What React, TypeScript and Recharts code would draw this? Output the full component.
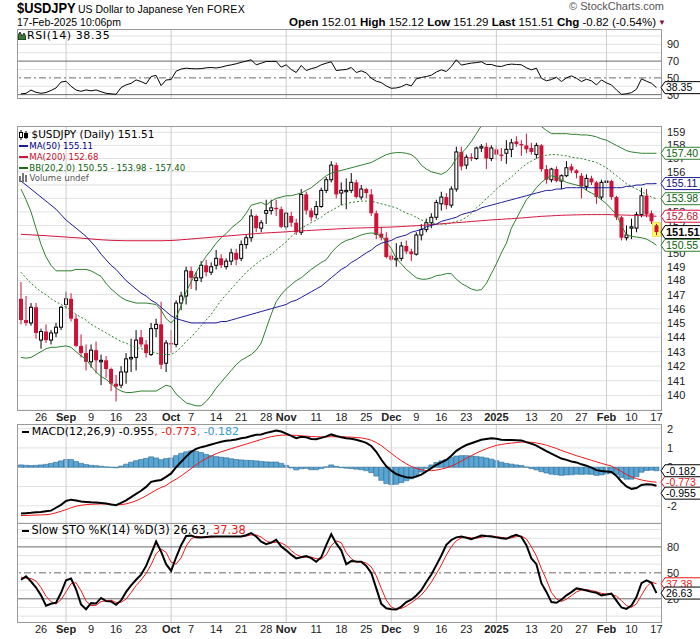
import React from "react";
import {
  ComposedChart,
  Bar,
  Line,
  XAxis,
  YAxis,
  CartesianGrid,
  ReferenceLine,
  ReferenceDot,
} from "recharts";

// trading days shown on the chart
const dates = [
  "2024-08-20", "2024-08-21", "2024-08-22", "2024-08-23", "2024-08-26", "2024-08-27", "2024-08-28", "2024-08-29", "2024-08-30",
  "2024-09-02", "2024-09-03", "2024-09-04", "2024-09-05", "2024-09-06", "2024-09-09", "2024-09-10", "2024-09-11", "2024-09-12",
  "2024-09-13", "2024-09-16", "2024-09-17", "2024-09-18", "2024-09-19", "2024-09-20", "2024-09-23", "2024-09-24", "2024-09-25",
  "2024-09-26", "2024-09-27", "2024-09-30",
  "2024-10-01", "2024-10-02", "2024-10-03", "2024-10-04", "2024-10-07", "2024-10-08", "2024-10-09", "2024-10-10", "2024-10-11",
  "2024-10-14", "2024-10-15", "2024-10-16", "2024-10-17", "2024-10-18", "2024-10-21", "2024-10-22", "2024-10-23", "2024-10-24",
  "2024-10-25", "2024-10-28", "2024-10-29", "2024-10-30", "2024-10-31",
  "2024-11-01", "2024-11-04", "2024-11-05", "2024-11-06", "2024-11-07", "2024-11-08", "2024-11-11", "2024-11-12", "2024-11-13",
  "2024-11-14", "2024-11-15", "2024-11-18", "2024-11-19", "2024-11-20", "2024-11-21", "2024-11-22", "2024-11-25", "2024-11-26",
  "2024-11-27", "2024-11-28", "2024-11-29",
  "2024-12-02", "2024-12-03", "2024-12-04", "2024-12-05", "2024-12-06", "2024-12-09", "2024-12-10", "2024-12-11", "2024-12-12",
  "2024-12-13", "2024-12-16", "2024-12-17", "2024-12-18", "2024-12-19", "2024-12-20", "2024-12-23", "2024-12-24", "2024-12-26",
  "2024-12-27", "2024-12-30", "2024-12-31",
  "2025-01-02", "2025-01-03", "2025-01-06", "2025-01-07", "2025-01-08", "2025-01-09", "2025-01-10", "2025-01-13", "2025-01-14",
  "2025-01-15", "2025-01-16", "2025-01-17", "2025-01-20", "2025-01-21", "2025-01-22", "2025-01-23", "2025-01-24", "2025-01-27",
  "2025-01-28", "2025-01-29", "2025-01-30", "2025-01-31",
  "2025-02-03", "2025-02-04", "2025-02-05", "2025-02-06", "2025-02-07", "2025-02-10", "2025-02-11", "2025-02-12", "2025-02-13",
  "2025-02-14", "2025-02-17",
];

const open = [
  146.7, 145.2, 145.0, 146.1, 143.8, 144.4, 143.8, 144.3, 144.7, 146.3,
  146.7, 145.3, 143.4, 142.9, 142.3, 143.1, 142.3, 142.4, 141.8, 140.8,
  140.7, 141.6, 142.5, 142.6, 144.0, 143.5, 142.8, 144.6, 144.9, 142.2,
  143.6, 143.5, 146.4, 146.9, 148.7, 148.0, 148.2, 149.1, 148.6, 149.1,
  149.6, 149.0, 149.4, 150.0, 149.6, 150.6, 151.1, 152.7, 151.8, 152.9,
  153.1, 153.3, 153.2, 151.9, 152.7, 152.2, 151.5, 154.3, 153.1, 152.8,
  153.4, 154.6, 155.4, 156.5, 154.4, 154.5, 154.6, 155.2, 154.1, 154.7,
  154.3, 152.9, 151.4, 151.1, 149.8, 149.5, 149.6, 150.5, 150.1, 149.9,
  151.3, 151.7, 152.2, 152.6, 153.6, 154.1, 153.5, 154.7, 157.5, 156.5,
  157.1, 157.0, 157.8, 157.9, 157.0, 157.7, 157.3, 157.4, 157.7, 158.3,
  158.1, 158.0, 157.8, 157.3, 158.0, 156.2, 155.4, 156.2, 155.3, 155.7,
  156.4, 156.1, 155.7, 154.9, 155.5, 155.2, 154.1, 155.2, 155.3, 154.1,
  152.6, 151.1, 151.8, 151.8, 152.8, 154.2, 152.9, 152.01,
];
const high = [
  147.9, 146.9, 146.4, 146.4, 144.6, 144.9, 144.5, 145.0, 146.2, 147.2,
  147.1, 145.6, 144.2, 143.5, 143.5, 143.7, 142.8, 142.7, 141.9, 141.4,
  142.0, 142.9, 143.9, 144.5, 144.5, 143.8, 145.0, 145.3, 146.5, 143.8,
  144.5, 146.6, 147.2, 149.0, 149.0, 148.6, 149.4, 149.5, 149.3, 150.2,
  149.9, 149.6, 150.3, 150.3, 150.9, 151.3, 153.2, 152.8, 152.4, 153.9,
  153.9, 153.9, 153.4, 153.0, 153.0, 152.5, 154.7, 154.5, 153.3, 153.8,
  154.8, 155.6, 156.8, 156.7, 155.2, 155.5, 155.9, 155.4, 155.0, 154.8,
  154.7, 153.1, 151.9, 151.5, 150.1, 150.7, 150.8, 150.9, 150.3, 151.5,
  152.1, 152.5, 152.9, 153.9, 154.5, 154.4, 154.9, 157.9, 157.9, 157.3,
  157.4, 157.9, 158.1, 158.2, 158.0, 158.0, 157.8, 158.4, 158.5, 158.7,
  158.4, 158.9, 158.2, 158.2, 158.1, 156.5, 156.3, 156.4, 155.8, 156.8,
  156.6, 156.2, 155.9, 155.8, 155.7, 155.3, 155.4, 156.0, 155.4, 154.2,
  152.7, 152.0, 152.5, 153.0, 154.8, 154.7, 153.1, 152.12,
];
const low = [
  144.9, 144.8, 144.8, 143.9, 143.2, 143.6, 143.5, 144.0, 144.5, 146.0,
  145.1, 143.3, 142.6, 141.7, 141.9, 141.5, 140.7, 141.2, 140.3, 139.6,
  140.5, 140.8, 141.6, 141.7, 143.3, 142.6, 142.7, 144.0, 141.8, 141.6,
  142.9, 143.3, 145.9, 146.3, 147.4, 147.3, 147.9, 148.3, 148.4, 148.8,
  148.9, 148.8, 149.1, 149.1, 149.4, 150.3, 150.8, 151.5, 151.5, 152.1,
  152.8, 152.7, 151.8, 151.7, 151.9, 151.3, 151.3, 152.8, 152.3, 152.5,
  153.3, 154.4, 155.2, 154.0, 153.5, 153.2, 154.4, 154.0, 153.9, 154.0,
  152.7, 151.0, 150.9, 149.6, 149.4, 149.0, 149.4, 149.9, 149.4, 149.8,
  150.9, 151.5, 151.8, 152.4, 153.1, 153.2, 153.3, 154.5, 156.1, 156.2,
  156.8, 156.9, 157.5, 156.2, 156.8, 156.9, 156.8, 156.6, 157.1, 157.9,
  157.2, 157.4, 157.3, 157.0, 156.0, 155.1, 155.2, 155.2, 154.7, 155.6,
  155.9, 155.5, 154.0, 154.6, 155.0, 153.6, 153.9, 154.1, 153.9, 152.4,
  150.9, 150.9, 151.0, 151.5, 152.6, 152.6, 152.1, 151.29,
];
const close = [
  145.2, 145.0, 146.1, 144.3, 144.4, 143.8, 144.3, 144.7, 146.1, 146.7,
  145.3, 143.4, 142.9, 142.3, 143.1, 142.4, 142.4, 141.8, 140.8, 140.6,
  141.6, 142.5, 142.6, 143.8, 143.5, 142.9, 144.6, 144.9, 142.1, 143.6,
  143.5, 146.4, 146.9, 148.7, 148.2, 148.2, 149.1, 148.6, 149.0, 149.6,
  149.1, 149.4, 150.0, 149.5, 150.6, 151.1, 152.7, 151.8, 152.2, 153.1,
  153.3, 153.2, 151.9, 152.9, 152.2, 151.5, 154.3, 153.1, 152.6, 153.4,
  154.6, 155.4, 156.5, 154.3, 154.6, 154.6, 155.2, 154.1, 154.7, 154.4,
  152.9, 151.3, 151.1, 149.7, 149.5, 149.6, 150.5, 150.1, 149.9, 151.3,
  151.7, 152.2, 152.6, 153.7, 154.1, 153.5, 154.7, 157.5, 156.4, 157.1,
  157.0, 157.8, 157.9, 157.0, 157.8, 157.3, 157.2, 157.7, 158.2, 158.1,
  158.0, 157.7, 157.5, 158.0, 156.2, 155.4, 156.2, 155.3, 155.7, 156.3,
  156.1, 155.9, 154.9, 155.5, 155.2, 154.1, 155.2, 155.3, 154.1, 152.6,
  151.1, 151.3, 151.9, 152.8, 154.2, 152.8, 152.3, 151.51,
];

const ma50 = [
  155.3, 155.0, 154.7, 154.4, 154.1, 153.8, 153.5, 153.2, 152.8, 152.4,
  152.1, 151.8, 151.5, 151.2, 150.8, 150.4, 149.9, 149.5, 149.1, 148.8,
  148.4, 148.0, 147.7, 147.4, 147.1, 146.9, 146.6, 146.4, 146.1, 145.8,
  145.5, 145.3, 145.2, 145.1, 145.0, 145.0, 145.0, 145.0, 145.0, 145.0,
  145.1, 145.1, 145.2, 145.3, 145.4, 145.5, 145.6, 145.7, 145.8, 145.9,
  146.0, 146.1, 146.2, 146.3, 146.5, 146.6, 146.8, 147.0, 147.2, 147.4,
  147.6, 147.9, 148.2, 148.5, 148.8, 149.0, 149.3, 149.5, 149.75, 150.0,
  150.2, 150.5, 150.7, 150.8, 150.9, 151.1, 151.2, 151.3, 151.5, 151.6,
  151.7, 151.9, 152.0, 152.1, 152.3, 152.4, 152.5, 152.6, 152.8, 152.9,
  153.0, 153.1, 153.3, 153.4, 153.5, 153.6, 153.7, 153.8, 153.9, 154.0,
  154.1, 154.2, 154.3, 154.4, 154.5, 154.6, 154.6, 154.7, 154.7, 154.8,
  154.8, 154.8, 154.8, 154.8, 154.8, 154.8, 154.8, 154.8, 154.8, 154.8,
  154.8, 154.9, 154.9, 155.0, 155.0, 155.1, 155.1, 155.11,
];
const ma200 = [
  151.35, 151.33, 151.31, 151.29, 151.27, 151.25, 151.22, 151.2, 151.17, 151.15,
  151.12, 151.1, 151.07, 151.04, 151.01, 150.98, 150.95, 150.93, 150.91, 150.9,
  150.89, 150.88, 150.88, 150.88, 150.88, 150.88, 150.88, 150.88, 150.88, 150.89,
  150.9, 150.92, 150.95, 150.98, 151.01, 151.04, 151.07, 151.1, 151.13, 151.16,
  151.19, 151.22, 151.25, 151.28, 151.31, 151.34, 151.37, 151.4, 151.43, 151.45,
  151.47, 151.49, 151.51, 151.53, 151.56, 151.58, 151.6, 151.62, 151.64, 151.66,
  151.68, 151.7, 151.72, 151.74, 151.76, 151.78, 151.8, 151.81, 151.82, 151.83,
  151.84, 151.85, 151.86, 151.87, 151.88, 151.9, 151.92, 151.94, 151.96, 151.98,
  152.0, 152.03, 152.06, 152.09, 152.12, 152.15, 152.18, 152.2, 152.23, 152.26,
  152.29, 152.32, 152.35, 152.38, 152.41, 152.43, 152.45, 152.48, 152.5, 152.53,
  152.55, 152.58, 152.61, 152.64, 152.67, 152.69, 152.71, 152.73, 152.75, 152.76,
  152.77, 152.78, 152.79, 152.8, 152.8, 152.8, 152.8, 152.8, 152.79, 152.78,
  152.77, 152.76, 152.75, 152.74, 152.72, 152.71, 152.69, 152.68,
];
const bbUpper = [
  154.7, 153.9, 153.0, 151.8, 150.6, 149.7, 149.1, 148.7, 148.7, 148.7,
  148.7, 148.8, 148.8, 148.8, 148.7, 148.5, 148.3, 147.8, 147.4, 147.1,
  146.8, 146.6, 146.5, 146.4, 146.4, 146.4, 146.35, 146.3, 145.9, 145.3,
  145.0, 145.4, 146.2, 147.2, 147.9, 148.6, 149.2, 149.75, 150.2, 150.7,
  151.1, 151.4, 151.8, 152.1, 152.4, 152.9, 153.5, 153.6, 153.7, 153.5,
  153.8, 154.0, 154.1, 154.2, 154.2, 154.3, 154.4, 154.6, 154.8, 155.1,
  155.4, 155.7, 155.9, 156.0, 156.1, 156.2, 156.3, 156.4, 156.5, 156.6,
  156.7, 156.9, 157.1, 157.3, 157.4, 157.45, 157.45, 157.4, 157.3, 157.0,
  156.5, 156.2, 156.0, 155.9, 155.8, 156.0, 156.4, 157.0, 157.4, 157.8,
  158.3, 158.9, 159.5, 160.0, 160.3, 160.4, 160.5, 160.5, 160.4, 160.3,
  160.1, 159.9, 159.8, 159.7, 159.45, 159.15, 158.9, 158.9, 158.9, 158.9,
  158.85, 158.85, 158.8, 158.8, 158.75, 158.65, 158.5, 158.4, 158.2, 158.0,
  157.8, 157.6, 157.5, 157.45, 157.4, 157.4, 157.4, 157.4,
];
const bbMid = [
  148.6, 148.2, 147.8, 147.5, 147.2, 147.0, 146.7, 146.5, 146.3, 146.1,
  145.9, 145.6, 145.4, 145.2, 144.9, 144.7, 144.5, 144.3, 144.1, 143.9,
  143.7, 143.6, 143.4, 143.3, 143.2, 143.15, 143.0, 142.9, 142.8, 142.8,
  142.8, 143.0, 143.3, 143.7, 144.0, 144.4, 144.8, 145.2, 145.6, 146.1,
  146.6, 147.0, 147.4, 147.8, 148.2, 148.6, 148.9, 149.2, 149.5, 149.7,
  149.9, 150.2, 150.5, 150.8, 151.2, 151.5, 151.8, 152.0, 152.2, 152.4,
  152.6, 152.9, 153.1, 153.3, 153.5, 153.6, 153.7, 153.75, 153.8, 153.8,
  153.8, 153.7, 153.6, 153.5, 153.4, 153.3, 153.1, 152.9, 152.8, 152.6,
  152.4, 152.3, 152.2, 152.1, 152.1, 152.1, 152.2, 152.3, 152.4, 152.6,
  152.9, 153.3, 153.6, 154.0, 154.3, 154.7, 155.0, 155.3, 155.6, 155.95,
  156.3, 156.6, 156.8, 157.0, 157.2, 157.25, 157.3, 157.3, 157.25, 157.2,
  157.1, 157.05, 157.0, 156.9, 156.8, 156.7, 156.5, 156.3, 156.0, 155.7,
  155.4, 155.1, 154.9, 154.7, 154.5, 154.3, 154.1, 153.98,
];
const bbLower = [
  142.6, 142.55, 142.6, 142.8, 143.0, 143.2, 143.3, 143.3, 143.35, 143.4,
  143.3, 143.0, 142.7, 142.5, 142.0, 141.6, 141.3, 141.1, 140.8, 140.5,
  140.3, 140.2, 140.2, 140.25, 140.3, 140.3, 140.3, 140.3, 140.5, 140.7,
  140.6, 140.1, 139.8, 139.5, 139.4, 139.3, 139.3, 139.6, 140.0, 140.5,
  140.9, 141.3, 141.7, 142.1, 142.4, 142.6, 142.8, 143.1, 143.6, 144.6,
  145.6, 146.5, 147.0, 147.4, 147.7, 148.0, 148.2, 148.5, 148.8, 149.05,
  149.3, 149.5, 150.0, 150.4, 150.7, 150.9, 151.0, 151.15, 151.3, 151.4,
  151.45, 151.4, 151.2, 150.8, 150.3, 149.6, 149.2, 148.8, 148.5, 148.2,
  148.1, 148.1, 148.2, 148.35, 148.4, 148.5, 148.5, 148.1, 147.8, 147.6,
  147.4, 147.3, 147.35, 147.8, 148.5, 149.2, 150.0, 150.7, 151.8, 152.5,
  153.2, 153.9, 154.3, 154.8, 155.2, 155.5, 155.7, 155.6, 155.4, 155.2,
  155.1, 155.0, 154.9, 154.6, 154.4, 154.2, 153.9, 153.6, 153.2, 152.8,
  152.0, 151.3, 151.2, 151.15, 151.1, 151.0, 150.8, 150.55,
];

const rsi = [
  31.0, 31.5, 35.5, 32.8, 31.6, 32.5, 35.0, 38.0, 45.0, 46.0,
  40.0, 35.5, 34.0, 35.6, 34.5, 35.6, 33.5, 31.6, 31.0, 30.4,
  38.5, 41.6, 43.5, 47.6, 45.6, 42.8, 51.6, 53.0, 40.8, 47.5,
  48.0, 58.0, 60.5, 61.6, 61.0, 60.8, 61.0, 62.0, 62.4, 61.8,
  62.8, 64.4, 65.5, 66.8, 68.5, 70.0, 71.6, 65.6, 67.5, 69.6,
  69.6, 69.6, 62.8, 65.6, 60.0, 56.4, 64.8, 58.8, 61.0, 62.5,
  65.6, 67.5, 69.2, 58.8, 59.5, 60.0, 62.4, 56.4, 58.4, 56.0,
  49.6, 46.0, 44.4, 40.4, 37.6, 38.0, 39.5, 42.4, 40.4, 48.8,
  50.5, 51.6, 53.2, 57.0, 59.6, 57.6, 63.6, 71.6, 65.2, 66.5,
  67.6, 68.2, 69.2, 66.0, 66.0, 64.0, 63.6, 65.6, 66.4, 66.0,
  65.6, 62.0, 59.6, 61.6, 49.6, 46.5, 48.0, 50.8, 45.6, 50.0,
  52.4, 49.6, 45.6, 48.4, 46.5, 41.6, 47.6, 44.0, 41.6, 35.6,
  30.4, 31.0, 32.4, 36.5, 48.8, 46.0, 43.6, 38.35,
];

const macd = [
  -2.4, -2.38, -2.36, -2.33, -2.32, -2.28, -2.25, -2.1, -1.95, -1.75,
  -1.68, -1.72, -1.78, -1.8, -1.82, -1.83, -1.85, -1.88, -1.93, -1.97,
  -1.85, -1.72, -1.55, -1.38, -1.22, -1.02, -0.76, -0.7, -0.66, -0.5,
  -0.32, 0.0, 0.28, 0.55, 0.8, 0.95, 1.04, 1.1, 1.18, 1.25,
  1.32, 1.37, 1.4, 1.44, 1.5, 1.54, 1.62, 1.68, 1.7, 1.78,
  1.84, 1.9, 1.85, 1.74, 1.62, 1.5, 1.58, 1.55, 1.46, 1.45,
  1.52, 1.6, 1.7, 1.62, 1.55, 1.5, 1.48, 1.42, 1.35, 1.26,
  1.1, 0.8, 0.4, 0.05, -0.18, -0.35, -0.45, -0.52, -0.55, -0.48,
  -0.38, -0.22, -0.05, 0.12, 0.25, 0.38, 0.6, 0.85, 1.02, 1.15,
  1.24, 1.33, 1.42, 1.46, 1.5, 1.47, 1.43, 1.41, 1.41, 1.4,
  1.39, 1.3, 1.22, 1.12, 0.98, 0.84, 0.7, 0.58, 0.45, 0.38,
  0.3, 0.25, 0.15, 0.08, -0.02, -0.15, -0.2, -0.22, -0.25, -0.45,
  -0.75, -1.0, -1.12, -1.08, -0.92, -0.88, -0.9, -0.955,
];
const signal = [
  -2.5, -2.5, -2.49, -2.48, -2.47, -2.46, -2.43, -2.36, -2.28, -2.2,
  -2.1, -2.02, -1.97, -1.94, -1.92, -1.91, -1.9, -1.9, -1.92, -1.94,
  -1.94, -1.9, -1.83, -1.74, -1.62, -1.48, -1.33, -1.18, -1.05, -0.95,
  -0.76, -0.62, -0.45, -0.26, -0.07, 0.12, 0.3, 0.45, 0.58, 0.7,
  0.8, 0.88, 0.96, 1.04, 1.12, 1.2, 1.28, 1.36, 1.44, 1.52,
  1.58, 1.63, 1.66, 1.67, 1.66, 1.65, 1.63, 1.61, 1.59, 1.58,
  1.57, 1.57, 1.58, 1.58, 1.58, 1.57, 1.56, 1.54, 1.52, 1.47,
  1.4, 1.28, 1.12, 0.92, 0.72, 0.52, 0.34, 0.18, 0.04, -0.06,
  -0.13, -0.17, -0.18, -0.15, -0.1, -0.03, 0.06, 0.18, 0.32, 0.46,
  0.6, 0.73, 0.85, 0.96, 1.05, 1.13, 1.18, 1.22, 1.25, 1.28,
  1.3, 1.3, 1.29, 1.26, 1.21, 1.14, 1.06, 0.97, 0.87, 0.78,
  0.69, 0.6, 0.52, 0.44, 0.36, 0.28, 0.2, 0.13, 0.06, -0.08,
  -0.22, -0.38, -0.5, -0.59, -0.66, -0.71, -0.75, -0.773,
];
const hist = [
  0.12, 0.1, 0.09, 0.1, 0.12, 0.15, 0.2, 0.26, 0.33, 0.4,
  0.4, 0.3, 0.2, 0.14, 0.1, 0.08, 0.05, 0.02, -0.01, -0.03,
  0.06, 0.16, 0.26, 0.34, 0.4, 0.46, 0.54, 0.48, 0.39, 0.45,
  0.48, 0.6, 0.72, 0.8, 0.85, 0.83, 0.76, 0.67, 0.6, 0.55,
  0.52, 0.49, 0.44, 0.4, 0.38, 0.36, 0.35, 0.33, 0.3, 0.28,
  0.27, 0.27, 0.2, 0.1, -0.04, -0.14, -0.08, -0.06, -0.13, -0.13,
  -0.07, 0.02, 0.12, 0.04, -0.02, -0.05, -0.07, -0.1, -0.13, -0.18,
  -0.28, -0.46, -0.68, -0.85, -0.9, -0.88, -0.8, -0.7, -0.6, -0.42,
  -0.25, -0.06, 0.12, 0.25, 0.33, 0.4, 0.5, 0.58, 0.6, 0.6,
  0.58, 0.56, 0.53, 0.48, 0.42, 0.34, 0.26, 0.2, 0.16, 0.12,
  0.09, 0.01, -0.07, -0.14, -0.23, -0.3, -0.36, -0.39, -0.42, -0.4,
  -0.39, -0.36, -0.37, -0.36, -0.37, -0.42, -0.4, -0.35, -0.3, -0.37,
  -0.53, -0.62, -0.62, -0.49, -0.26, -0.17, -0.15, -0.182,
];

const stoK = [
  42.0, 46.0, 40.0, 33.0, 24.0, 12.0, 14.2, 15.5, 27.0, 41.5,
  43.4, 31.0, 13.5, 8.0, 15.0, 14.5, 21.0, 17.3, 16.9, 13.1,
  18.1, 28.0, 35.5, 42.0, 48.0, 58.0, 72.0, 86.2, 74.5, 60.0,
  52.3, 68.0, 82.0, 92.5, 93.0, 91.0, 90.8, 91.5, 92.0, 92.0,
  92.0, 92.0, 92.0, 92.0, 92.0, 93.5, 95.9, 92.0, 86.0, 83.1,
  85.0, 88.1, 80.5, 76.0, 71.0, 66.7, 68.0, 69.5, 67.0, 62.8,
  68.0, 82.0, 94.7, 84.0, 76.0, 60.0, 63.6, 63.0, 62.8, 58.0,
  50.0, 32.0, 14.2, 9.0, 8.0, 7.6, 11.0, 16.2, 19.0, 23.9,
  30.0, 39.5, 48.0, 58.9, 70.0, 82.3, 88.0, 91.0, 92.0, 90.5,
  88.9, 91.0, 93.2, 92.5, 92.0, 91.0, 90.1, 89.3, 92.0, 94.0,
  91.5, 82.0, 66.7, 60.0, 38.0, 28.0, 16.2, 15.4, 19.0, 24.0,
  27.8, 32.0, 31.0, 29.5, 28.0, 27.0, 24.0, 25.0, 25.9, 18.0,
  10.0, 8.4, 12.3, 22.0, 38.0, 41.4, 38.5, 26.63,
];
const stoD = [
  45.0, 44.0, 43.4, 40.5, 33.0, 23.0, 16.7, 13.9, 19.0, 28.0,
  37.5, 38.6, 29.3, 17.5, 12.2, 12.5, 16.8, 17.6, 18.4, 15.8,
  16.0, 19.7, 27.2, 35.2, 41.8, 49.3, 59.3, 72.1, 77.6, 73.6,
  62.3, 60.1, 67.4, 80.8, 89.2, 92.2, 91.6, 91.1, 91.4, 91.8,
  92.0, 92.0, 92.0, 92.0, 92.0, 92.5, 93.8, 93.8, 91.3, 87.0,
  84.7, 85.4, 84.5, 81.5, 75.8, 71.2, 68.6, 68.1, 68.2, 66.4,
  65.9, 70.9, 81.6, 86.9, 84.9, 73.3, 66.5, 62.2, 63.1, 61.3,
  56.9, 46.7, 32.1, 18.4, 10.4, 8.2, 8.9, 11.6, 15.4, 19.7,
  24.3, 31.1, 39.2, 48.8, 59.0, 70.4, 80.1, 87.1, 90.3, 91.2,
  90.5, 90.1, 91.0, 92.2, 92.6, 91.8, 91.0, 90.1, 90.5, 91.8,
  92.5, 89.2, 80.1, 69.6, 54.9, 42.0, 27.4, 19.9, 16.9, 19.5,
  23.6, 27.9, 30.3, 30.8, 29.5, 28.2, 26.3, 25.3, 25.0, 23.0,
  18.0, 12.1, 10.2, 14.2, 24.1, 33.8, 39.3, 37.38,
];

// x-axis labels: [date, text, bold]
const xLabels: [string, string, boolean][] = [
  ["2024-08-26", "26", false], ["2024-09-02", "Sep", true], ["2024-09-09", "9", false],
  ["2024-09-16", "16", false], ["2024-09-23", "23", false], ["2024-10-01", "Oct", true],
  ["2024-10-07", "7", false], ["2024-10-14", "14", false], ["2024-10-21", "21", false],
  ["2024-10-28", "28", false], ["2024-11-01", "Nov", true], ["2024-11-11", "11", false],
  ["2024-11-18", "18", false], ["2024-11-25", "25", false], ["2024-12-02", "Dec", true],
  ["2024-12-09", "9", false], ["2024-12-16", "16", false], ["2024-12-23", "23", false],
  ["2025-01-02", "2025", true], ["2025-01-13", "13", false], ["2025-01-20", "20", false],
  ["2025-01-27", "27", false], ["2025-02-03", "Feb", true], ["2025-02-10", "10", false],
  ["2025-02-17", "17", false],
];
const monthStarts = ["2024-09-02", "2024-10-01", "2024-11-01", "2024-12-02", "2025-01-02", "2025-02-03"];
const priceTicks = [140, 141, 142, 143, 144, 145, 146, 147, 148, 149, 150, 151, 152, 153, 154, 155, 156, 157, 158, 159];
const rsiTicks = [90, 70, 50, 30];
const macdTicks = [2, 1, 0, -1, -2];
const stoTicks = [80, 50, 20];

const FONT = '"Liberation Sans", Arial, sans-serif';
const VFONT = '"DejaVu Sans", Verdana, sans-serif';
const RED = "#cc1236";
const GREEN = "#2f7f2f";
const BLUE = "#1c1c98";
const GRID = "#e2e2e2";
const MONTH = "#cbcbcb";
const DARK = "#6a6a6a";
const XDOM: [number, number] = [-0.8, 127.9];
const MARGIN = { top: 0, right: 0, bottom: 0, left: 17 };
const LAST = dates.length - 1;

const RSI_DOM: [number, number] = [26, 108.3];
const PRICE_DOM: [number, number] = [139.02, 159.49];
const MACD_DOM: [number, number] = [-2.89, 2.24];
const STO_DOM: [number, number] = [-6.8, 107.6];

const data = dates.map((d, i) => ({
  i,
  date: d,
  open: open[i],
  high: high[i],
  low: low[i],
  close: close[i],
  range: [low[i], high[i]],
  ma50: ma50[i],
  ma200: ma200[i],
  bbU: bbUpper[i],
  bbM: bbMid[i],
  bbL: bbLower[i],
  rsi: rsi[i],
  macd: macd[i],
  signal: signal[i],
  hist: hist[i],
  k: stoK[i],
  d: stoD[i],
}));

const monthIdx = monthStarts.map((d) => dates.indexOf(d));
const tickIdx = xLabels.map(([d]) => dates.indexOf(d));
const labelAt: Record<number, { text: string; bold: boolean }> = {};
xLabels.forEach(([d, text, bold]) => {
  labelAt[dates.indexOf(d)] = { text, bold };
});

const yTick = { fontSize: 11, fill: "#222", fontFamily: FONT };

const XTick = (props: any) => {
  const { x, y, payload } = props;
  const lab = labelAt[payload.value];
  if (!lab) return null;
  return (
    <text x={x} y={y + 8} textAnchor="middle" dominantBaseline="middle" fontSize={11}
      fontWeight={lab.bold ? "bold" : "normal"} fill="#222" fontFamily={FONT}>
      {lab.text}
    </text>
  );
};

// candlestick drawn from the [low, high] bar the library places on the log scale
const Candle = (props: any) => {
  const { x, y, width, height, payload } = props;
  if (x == null || y == null) return null;
  const cx = x + width / 2;
  const top = Math.min(y, y + height);
  const h = Math.abs(height);
  const lh = Math.log(payload.high);
  const ll = Math.log(payload.low);
  const py = (p: number) => top + (h * (lh - Math.log(p))) / (lh - ll || 1);
  const up = payload.close >= payload.open;
  const yO = py(payload.open);
  const yC = py(payload.close);
  const bt = Math.min(yO, yC);
  const bh = Math.max(Math.abs(yO - yC), 1);
  const col = up ? "#000" : RED;
  return (
    <g>
      {payload.i === LAST && (
        <rect x={cx - 4} y={top - 1.5} width={8} height={h + 3} fill="#ffff66" stroke="#e8dc40" strokeWidth={0.8} />
      )}
      <line x1={cx} x2={cx} y1={top} y2={top + h} stroke={col} strokeWidth={1} />
      {up ? (
        <rect x={cx - 1.5} y={bt} width={3} height={bh} fill="#fff" stroke="#000" strokeWidth={1} />
      ) : (
        <rect x={cx - 2} y={bt} width={4} height={bh} fill={RED} />
      )}
    </g>
  );
};

// value tag on the right edge of a panel
const tag = (text: string, border: string, color: string, bold = false, dy = 0) => (p: any) => {
  const h = bold ? 13 : 12;
  const x0 = p.cx + 4.5;
  const y = p.cy + dy;
  const d = `M${x0},${y} L${x0 + 4},${y - h / 2} L${702},${y - h / 2} L${702},${y + h / 2} L${x0 + 4},${y + h / 2} Z`;
  return (
    <g>
      <path d={d} fill="#fff" stroke={border} strokeWidth={1} />
      <text x={x0 + 5} y={y} dy="0.36em" fontSize={bold ? 11 : 10.5} fontWeight={bold ? "bold" : "normal"}
        fill={color} fontFamily={FONT}>
        {text}
      </text>
    </g>
  );
};

type TagDef = { y: number; text: string; border: string; color: string; bold?: boolean; dy?: number };

const rsiTags: TagDef[] = [{ y: 38.35, text: "38.35", border: "#000", color: "#000" }];
const priceTags: TagDef[] = [
  { y: 157.4, text: "157.40", border: GREEN, color: "#0b5e0b" },
  { y: 155.11, text: "155.11", border: BLUE, color: "#0b0b80" },
  { y: 153.98, text: "153.98", border: GREEN, color: "#0b5e0b" },
  { y: 152.68, text: "152.68", border: "#d4143c", color: "#c0102f" },
  { y: 150.55, text: "150.55", border: GREEN, color: "#0b5e0b" },
  { y: 151.51, text: "151.51", border: "#000", color: "#000", bold: true },
];
const macdTags: TagDef[] = [
  { y: -0.773, text: "-0.773", border: "#f01818", color: "#f01818" },
  { y: -0.955, text: "-0.955", border: "#000", color: "#000", dy: 7.5 },
  { y: -0.182, text: "-0.182", border: "#000", color: "#000" },
];
const stoTags: TagDef[] = [
  { y: 37.38, text: "37.38", border: "#f01818", color: "#f01818" },
  { y: 26.63, text: "26.63", border: "#000", color: "#000" },
];

// a transparent chart laid over a panel so the tags sit above the axis labels
const TagLayer = ({ top, height, bottom = 0, domain, log = false, tags }: any) => (
  <div style={{ position: "absolute", left: 0, top, pointerEvents: "none" }}>
    <ComposedChart width={700} height={height} data={data} margin={{ ...MARGIN, bottom }}>
      <XAxis type="number" dataKey="i" domain={XDOM} allowDataOverflow hide />
      <YAxis orientation="right" width={39} scale={log ? "log" : "auto"} domain={domain} allowDataOverflow
        tick={false} tickLine={false} axisLine={false} />
      {tags.map((t: TagDef) => (
        <ReferenceDot key={t.text} x={LAST} y={t.y} ifOverflow="visible"
          shape={tag(t.text, t.border, t.color, t.bold, t.dy)} />
      ))}
    </ComposedChart>
  </div>
);

const Frame = ({ top, height }: { top: number; height: number }) => (
  <div style={{ position: "absolute", left: 17, top, width: 645, height: height + 1, border: "1px solid #9a9a9a",
    boxSizing: "border-box", pointerEvents: "none" }} />
);

const Txt = ({ x, y, size = 11, color = "#000", bold = false, family = FONT, sx = 1, ls = 0, right = false, children }: any) => (
  <div style={{
    position: "absolute", left: right ? undefined : x, right: right ? 700 - x : undefined, top: y - size * 0.6,
    height: size * 1.2, lineHeight: `${size * 1.2}px`, fontSize: size, color, fontWeight: bold ? "bold" : "normal",
    fontFamily: family, whiteSpace: "nowrap", letterSpacing: ls,
    transform: sx !== 1 ? `scaleX(${sx})` : undefined, transformOrigin: right ? "right center" : "left center",
  }}>
    {children}
  </div>
);

const Dash = ({ x, y, color, w = 8 }: any) => (
  <div style={{ position: "absolute", left: x, top: y - 1, width: w, height: 2, background: color }} />
);

const monthLines = monthIdx.map((m) => <ReferenceLine key={"m" + m} x={m} stroke={MONTH} />);

export default function App() {
  return (
    <div style={{ position: "absolute", left: 0, top: 0, width: 700, height: 639, background: "#fff", overflow: "hidden" }}>
      {/* RSI panel */}
      <div style={{ position: "absolute", left: 0, top: 29 }}>
        <ComposedChart width={700} height={77} data={data} margin={{ ...MARGIN, bottom: 8 }}>
          <XAxis type="number" dataKey="i" domain={XDOM} allowDataOverflow hide />
          <YAxis orientation="right" width={39} domain={RSI_DOM} allowDataOverflow ticks={rsiTicks} interval={0}
            tickLine={false} axisLine={false} tickSize={0} tickMargin={6} tick={yTick} />
          {[40, 60, 80, 90, 100].map((v) => <ReferenceLine key={v} y={v} stroke={GRID} />)}
          {monthLines}
          <ReferenceLine y={70} stroke={DARK} />
          <ReferenceLine y={30} stroke={DARK} />
          <ReferenceLine y={50} stroke={DARK} strokeDasharray="7 3 2 3" />
          <Line dataKey="rsi" stroke="#000" strokeWidth={1} dot={false} isAnimationActive={false} />
        </ComposedChart>
      </div>

      {/* price panel */}
      <div style={{ position: "absolute", left: 0, top: 126 }}>
        <ComposedChart width={700} height={298} data={data} margin={MARGIN}>
          <CartesianGrid horizontal vertical={false} stroke={GRID} />
          <XAxis type="number" dataKey="i" domain={XDOM} allowDataOverflow ticks={tickIdx} interval={0}
            tickLine={false} axisLine={false} tickSize={0} tickMargin={0} height={14} tick={<XTick />} />
          <YAxis orientation="right" width={39} scale="log" domain={PRICE_DOM} allowDataOverflow
            ticks={priceTicks} interval={0} tickLine={false} axisLine={false} tickSize={0} tickMargin={6} tick={yTick} />
          {monthLines}
          <Line dataKey="bbU" stroke={GREEN} strokeWidth={1} dot={false} isAnimationActive={false} />
          <Line dataKey="bbL" stroke={GREEN} strokeWidth={1} dot={false} isAnimationActive={false} />
          <Line dataKey="bbM" stroke={GREEN} strokeWidth={1} strokeDasharray="2 2" dot={false} isAnimationActive={false} />
          <Bar dataKey="range" barSize={5} isAnimationActive={false} shape={(p: any) => <Candle {...p} />} />
          <Line dataKey="ma200" stroke="#d4143c" strokeWidth={1} dot={false} isAnimationActive={false} />
          <Line dataKey="ma50" stroke={BLUE} strokeWidth={1} dot={false} isAnimationActive={false} />
        </ComposedChart>
      </div>

      {/* MACD panel */}
      <div style={{ position: "absolute", left: 0, top: 424 }}>
        <ComposedChart width={700} height={99} data={data} margin={MARGIN}>
          <CartesianGrid horizontal vertical={false} stroke={GRID} />
          <XAxis type="number" dataKey="i" domain={XDOM} allowDataOverflow hide />
          <YAxis orientation="right" width={39} domain={MACD_DOM} allowDataOverflow ticks={macdTicks} interval={0}
            tickLine={false} axisLine={false} tickSize={0} tickMargin={6} tick={yTick} />
          {monthLines}
          <Bar dataKey="hist" barSize={5} fill="#5aa5d2" stroke="#2f6d98" strokeWidth={0.6} isAnimationActive={false} />
          <Line dataKey="signal" stroke="#f01818" strokeWidth={1} dot={false} isAnimationActive={false} />
          <Line dataKey="macd" stroke="#000" strokeWidth={2} dot={false} isAnimationActive={false} />
        </ComposedChart>
      </div>

      {/* Slow stochastic panel */}
      <div style={{ position: "absolute", left: 0, top: 523 }}>
        <ComposedChart width={700} height={115} data={data} margin={MARGIN}>
          <XAxis type="number" dataKey="i" domain={XDOM} allowDataOverflow ticks={tickIdx} interval={0}
            tickLine={false} axisLine={false} tickSize={0} tickMargin={0} height={16} tick={<XTick />} />
          <YAxis orientation="right" width={39} domain={STO_DOM} allowDataOverflow ticks={stoTicks} interval={0}
            tickLine={false} axisLine={false} tickSize={0} tickMargin={6} tick={yTick} />
          {[0, 10, 30, 40, 60, 70, 90, 100].map((v) => <ReferenceLine key={v} y={v} stroke={GRID} />)}
          {monthLines}
          <ReferenceLine y={80} stroke={DARK} />
          <ReferenceLine y={20} stroke={DARK} />
          <ReferenceLine y={50} stroke={DARK} strokeDasharray="7 3 2 3" />
          <Line dataKey="d" stroke="#f01818" strokeWidth={1} dot={false} isAnimationActive={false} />
          <Line dataKey="k" stroke="#000" strokeWidth={2} dot={false} isAnimationActive={false} />
        </ComposedChart>
      </div>

      <Frame top={29} height={69} />
      <Frame top={126} height={284} />
      <Frame top={424} height={99} />
      <Frame top={523} height={99} />

      <TagLayer top={29} height={77} bottom={8} domain={RSI_DOM} tags={rsiTags} />
      <TagLayer top={126} height={298} bottom={14} domain={PRICE_DOM} log tags={priceTags} />
      <TagLayer top={424} height={99} domain={MACD_DOM} tags={macdTags} />
      <TagLayer top={523} height={115} bottom={16} domain={STO_DOM} tags={stoTags} />

      {/* header */}
      <Txt x={17} y={8.5} size={14} bold sx={0.92}>$USDJPY</Txt>
      <Txt x={78} y={9} size={10.5}>US Dollar to Japanese Yen</Txt>
      <Txt x={207} y={9.5} size={10.5} ls={0.4}>FOREX</Txt>
      <Txt x={17} y={22.5} size={10.5}>17-Feb-2025 10:06pm</Txt>
      <Txt x={664} y={7} size={11} color="#555" right>© StockCharts.com</Txt>
      <Txt x={656} y={22.5} size={11.5} right>
        <b>Open</b> 152.01 <b>High</b> 152.12 <b>Low</b> 151.29 <b>Last</b> 151.51 <b>Chg</b> -0.82 (-0.54%)
      </Txt>
      <Txt x={658} y={23} size={8} color="#8b1030">▼</Txt>

      {/* RSI legend */}
      <svg style={{ position: "absolute", left: 18, top: 31 }} width={8} height={9}>
        <polygon points="0,9 0,4 2,1 4,5 6,2 8,6 8,9" fill="#3a7a3a" stroke="#000" strokeWidth={0.7} />
      </svg>
      <Txt x={27} y={35.5} size={11} family={VFONT} ls={0.6}>RSI(14) 38.35</Txt>

      {/* price legend */}
      <svg style={{ position: "absolute", left: 19, top: 130 }} width={11} height={10}>
        <line x1={2} x2={2} y1={0} y2={10} stroke="#000" />
        <rect x={0.5} y={2.5} width={3} height={5} fill="#fff" stroke="#000" />
        <line x1={7} x2={7} y1={1} y2={9} stroke="#000" />
        <rect x={5.5} y={3.5} width={3} height={4} fill="#000" stroke="#000" />
      </svg>
      <Txt x={31.5} y={134.7} size={10.5} family={VFONT}>$USDJPY (Daily) 151.51</Txt>
      <Dash x={19} y={145.7} color={BLUE} w={9} />
      <Txt x={29.3} y={145.7} size={8.6} family={VFONT} color="#000090">MA(50) 155.11</Txt>
      <Dash x={19} y={156.7} color="#d4143c" w={9} />
      <Txt x={29.3} y={156.7} size={8.6} family={VFONT} color="#c8102e">MA(200) 152.68</Txt>
      <Dash x={19} y={167.7} color="#1f6a1f" w={9} />
      <Txt x={29.3} y={167.7} size={8.6} family={VFONT} color="#0b5e0b">BB(20,2.0) 150.55 - 153.98 - 157.40</Txt>
      <svg style={{ position: "absolute", left: 19, top: 173 }} width={10} height={9}>
        <rect x={0} y={3} width={2} height={6} fill="#777" />
        <rect x={3} y={0} width={2} height={9} fill="#777" />
        <rect x={6} y={2} width={2} height={7} fill="#777" />
      </svg>
      <Txt x={29.5} y={177.7} size={8.6} family={VFONT} color="#555">Volume undef</Txt>

      {/* MACD legend */}
      <Dash x={21.5} y={431.7} color="#000" w={7} />
      <Txt x={31.7} y={431.7} size={11} family={VFONT}>
        MACD(12,26,9) -0.955<span style={{ color: "#f01818" }}>, -0.773</span>
        <span style={{ color: "#3a9ad0" }}>, -0.182</span>
      </Txt>

      {/* Stochastic legend */}
      <Dash x={21.5} y={531} color="#000" w={7} />
      <Txt x={31.5} y={531} size={11.4} family={VFONT}>
        Slow STO %K(14) %D(3) 26.63, <span style={{ color: "#f01818" }}>37.38</span>
      </Txt>
    </div>
  );
}
